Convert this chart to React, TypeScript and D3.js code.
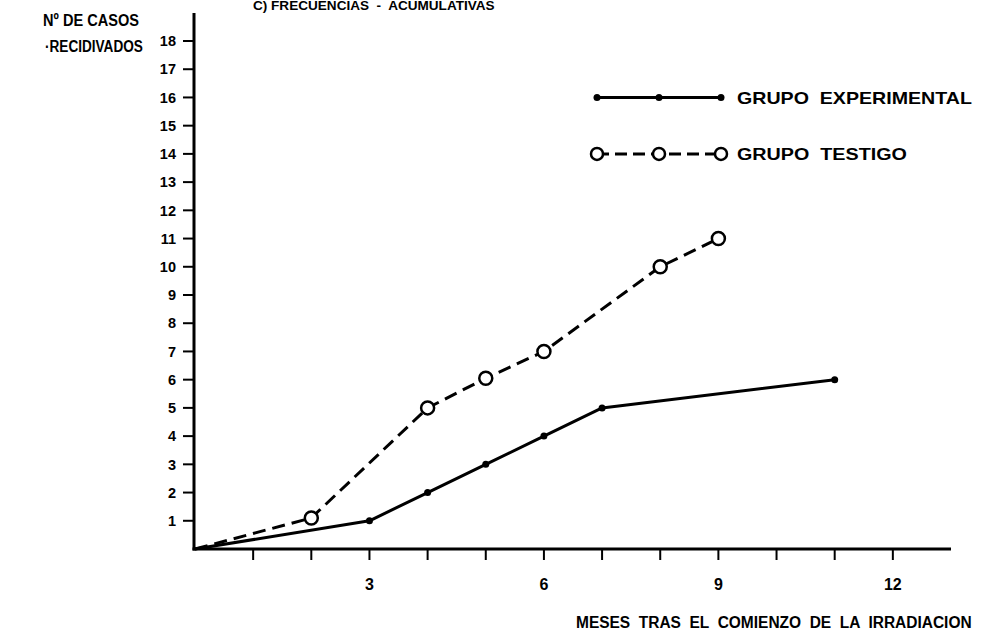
import React, { useLayoutEffect, useRef, useState } from "react";
import * as d3 from "d3";

const months = [0, 1, 2, 3, 4, 5, 6, 7, 8, 9, 10, 11, 12];
const xLabelMonths = [3, 6, 9, 12];
const yTicks = [1, 2, 3, 4, 5, 6, 7, 8, 9, 10, 11, 12, 13, 14, 15, 16, 17, 18];

const expMonths = [0, 3, 4, 5, 6, 7, 11];
const expValues = [0, 1, 2, 3, 4, 5, 6];
const expMarked = [false, true, true, true, true, true, true];

const testMonths = [0, 2, 4, 5, 6, 8, 9];
const testValues = [0, 1.1, 5, 6.05, 7, 10, 11];
const testMarked = [false, true, true, true, true, true, true];

const legendLabels = ["GRUPO  EXPERIMENTAL", "GRUPO  TESTIGO"];
const legendLevels = [16, 14];

const FONT = "'Liberation Sans', Arial, sans-serif";

function FitText({ x, y, width, size, children, dy }: { x: number; y: number; width: number; size: number; children: string; dy?: string }) {
  const ref = useRef<SVGTextElement>(null);
  const [sx, setSx] = useState(1);
  useLayoutEffect(() => {
    if (ref.current) {
      const w = ref.current.getComputedTextLength();
      if (w > 0) setSx(width / w);
    }
  }, [width, children]);
  return (
    <text ref={ref} transform={`translate(${x},${y}) scale(${sx},1)`} dy={dy} fontFamily={FONT} fontWeight="bold" fontSize={size} style={{ whiteSpace: "pre" }}>
      {children}
    </text>
  );
}

export default function App() {
  const W = 991, H = 634;
  const x = d3.scaleLinear().domain([0, 13]).range([195, 951]);
  const y = d3.scaleLinear().domain([0, 18]).range([549, 41]);
  const line = d3.line<[number, number]>().x(d => x(d[0])).y(d => y(d[1]));
  const expPts: [number, number][] = expMonths.map((m, i) => [m, expValues[i]]);
  const testPts: [number, number][] = testMonths.map((m, i) => [m, testValues[i]]);

  const lx = d3.scaleLinear().domain([0, 2]).range([597, 721]);
  const legY = legendLevels.map(v => y(v));

  return (
    <svg width={W} height={H} style={{ position: "absolute", left: 0, top: 0, background: "#fff" }}>
      <rect width={W} height={H} fill="#fff" />
      {/* title (partly cut in the original) */}
      <FitText x={253} y={10} width={242} size={12}>{"C) FRECUENCIAS  -  ACUMULATIVAS"}</FitText>
      {/* y title */}
      <FitText x={43} y={26} width={96} size={17}>{"Nº DE CASOS"}</FitText>
      <FitText x={45} y={52} width={98} size={17}>{"·RECIDIVADOS"}</FitText>

      {/* axes */}
      <line x1={x(0) - 1} y1={13} x2={x(0) - 1} y2={y(0) + 1.5} stroke="#000" strokeWidth={3} />
      <line x1={x(0) - 2.5} y1={y(0)} x2={x(13)} y2={y(0)} stroke="#000" strokeWidth={3} />

      {yTicks.map(v => (
        <g key={"y" + v}>
          <line x1={x(0) - 12} x2={x(0)} y1={y(v)} y2={y(v)} stroke="#000" strokeWidth={2} />
          <text x={176} y={y(v)} dy="0.36em" textAnchor="end" fontFamily={FONT} fontWeight="bold" fontSize={14.5}>{v}</text>
        </g>
      ))}
      {months.filter(m => m > 0).map(m => (
        <line key={"x" + m} x1={x(m)} x2={x(m)} y1={y(0)} y2={y(0) + 11} stroke="#000" strokeWidth={2} />
      ))}
      {xLabelMonths.map(m => (
        <text key={"xl" + m} x={x(m)} y={590} textAnchor="middle" fontFamily={FONT} fontWeight="bold" fontSize={16}>{m}</text>
      ))}
      <FitText x={576} y={628} width={396} size={17}>{"MESES  TRAS  EL  COMIENZO  DE  LA  IRRADIACION"}</FitText>

      {/* series */}
      <path d={line(expPts) || ""} fill="none" stroke="#000" strokeWidth={3} strokeLinejoin="round" />
      {expPts.map((p, i) => expMarked[i] ? <circle key={"e" + i} cx={x(p[0])} cy={y(p[1])} r={3.5} fill="#000" /> : null)}
      <path d={line(testPts) || ""} fill="none" stroke="#000" strokeWidth={3} strokeDasharray="13 7" />
      {testPts.map((p, i) => testMarked[i] ? <circle key={"t" + i} cx={x(p[0])} cy={y(p[1])} r={6.5} fill="#fff" stroke="#000" strokeWidth={2.5} /> : null)}

      {/* legend */}
      <line x1={lx(0)} x2={lx(2)} y1={legY[0]} y2={legY[0]} stroke="#000" strokeWidth={3} />
      {[0, 1, 2].map(k => <circle key={"le" + k} cx={lx(k)} cy={legY[0]} r={3.5} fill="#000" />)}
      <FitText x={737} y={legY[0]} dy="0.36em" width={235} size={17}>{legendLabels[0]}</FitText>

      <line x1={lx(0)} x2={lx(2)} y1={legY[1]} y2={legY[1]} stroke="#000" strokeWidth={3} strokeDasharray="12 6" />
      {[0, 1, 2].map(k => <circle key={"lt" + k} cx={lx(k)} cy={legY[1]} r={6} fill="#fff" stroke="#000" strokeWidth={2.5} />)}
      <FitText x={737} y={legY[1]} dy="0.36em" width={170} size={17}>{legendLabels[1]}</FitText>
    </svg>
  );
}
